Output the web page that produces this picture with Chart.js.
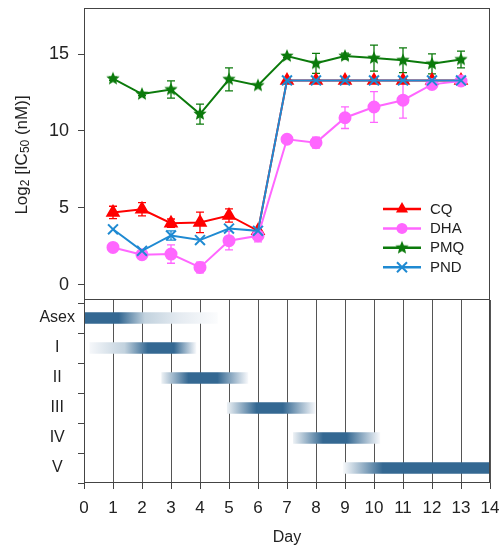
<!DOCTYPE html>
<html><head><meta charset="utf-8">
<script src="https://cdn.jsdelivr.net/npm/chart.js@4.4.0/dist/chart.umd.min.js"></script>
<style>
html,body{margin:0;padding:0;background:#fff;}
#wrap{position:relative;width:502px;height:548px;overflow:hidden;}
#top{position:absolute;left:0;top:0;width:502px;height:300px;}
#bot{position:absolute;left:0;top:300px;width:502px;height:248px;}
</style></head><body>
<div id="wrap">
<canvas id="top" width="502" height="300"></canvas>
<canvas id="bot" width="502" height="248"></canvas>
</div>
<script>
// ---------- data ----------
const days = [1,2,3,4,5,6,7,8,9,10,11,12,13];
const cqVals  = [4.7,4.9,4.0,4.05,4.5,3.5,13.29,13.29,13.29,13.29,13.29,13.29,13.29];
const cqErr   = [0.4,0.43,0.27,0.67,0.43,0,0,0,0,0,0,0,0];
const dhaVals = [2.42,1.95,1.99,1.12,2.86,3.18,9.46,9.24,10.86,11.56,12.0,13.03,13.25];
const dhaErr  = [0,0,0.6,0.35,0.6,0.4,0,0.35,0.7,1.0,1.17,0,0];
const pmqVals = [13.4,12.4,12.7,11.1,13.36,12.96,14.87,14.4,14.87,14.74,14.6,14.37,14.65];
const pmqErr  = [0.1,0.1,0.56,0.65,0.75,0,0.1,0.65,0.2,0.85,0.8,0.65,0.55];
const pndVals = [3.6,2.2,3.2,2.9,3.65,3.5,13.29,13.29,13.29,13.29,13.29,13.29,13.29];
const pndErr  = [0,0,0.3,0,0,0,0,0,0,0,0,0,0];
const yTicks  = [0,5,10,15];
const dayTicks = [0,1,2,3,4,5,6,7,8,9,10,11,12,13,14];

const stages     = ['Asex','I','II','III','IV','V'];
const stageStart = [0, 0.2, 2.68, 4.94, 7.22, 8.94];
const stageEnd   = [4.6, 3.86, 5.65, 7.97, 10.2, 14];
// shading profile along each stage: [day, intensity 0..1]
const stageShade = [
  [[0,1],[1.2,1],[2.1,0.3],[3.3,0.13],[4.6,0.02]],
  [[0.2,0.05],[1.4,0.3],[2.2,1],[3.1,1],[3.86,0.05]],
  [[2.68,0.1],[3.6,1],[4.6,1],[5.65,0.05]],
  [[4.94,0.1],[5.95,1],[6.86,1],[7.97,0.05]],
  [[7.22,0.1],[8.24,1],[9.06,1],[10.2,0.05]],
  [[8.94,0.04],[10.3,1],[14,1]]
];

// ---------- styles ----------
const FONT = "'Liberation Sans', Arial, Helvetica, sans-serif";
Chart.defaults.font.family = FONT;
Chart.defaults.color = '#222';
const AXIS = '#444';
const C_CQ = '#ff0000', C_DHA = '#ff66ff', C_PMQ = '#0b7a0b', C_PND = '#1f8ad2';
const DARK = [52,104,146];

function makeStar(r, color){
  const s = Math.ceil(r*2+2);
  const c = document.createElement('canvas'); c.width = s; c.height = s;
  const g = c.getContext('2d'); g.fillStyle = color; g.beginPath();
  for (let i=0;i<10;i++){
    const rr = i%2 ? r*0.45 : r;
    const a = -Math.PI/2 + i*Math.PI/5;
    g.lineTo(s/2 + rr*Math.cos(a), s/2 + rr*Math.sin(a));
  }
  g.closePath(); g.fill(); return c;
}
const starImg = makeStar(7, C_PMQ);
const starImgL = makeStar(7, C_PMQ);

const pts = vals => days.map((d,i)=>({x:d, y:vals[i]}));
const noPad = s => { s.paddingTop = 0; s.paddingBottom = 0; s.paddingLeft = 0; s.paddingRight = 0; };

const boxPlugin = (sides) => ({
  id:'box',
  afterDraw(chart){
    const {ctx, chartArea:a} = chart;
    ctx.save(); ctx.strokeStyle = AXIS; ctx.lineWidth = 1;
    ctx.beginPath();
    const l=Math.round(a.left)+0.5, r=Math.round(a.right)-0.5, t=Math.round(a.top)+0.5, b=Math.round(a.bottom)-0.5;
    if (sides.includes('t')) { ctx.moveTo(l,t); ctx.lineTo(r,t); }
    if (sides.includes('b')) { ctx.moveTo(l,b); ctx.lineTo(r,b); }
    if (sides.includes('l')) { ctx.moveTo(l,a.top); ctx.lineTo(l,a.bottom); }
    if (sides.includes('r')) { ctx.moveTo(r,a.top); ctx.lineTo(r,a.bottom); }
    ctx.stroke(); ctx.restore();
  }
});

const errorBars = {
  id:'errorBars',
  beforeDatasetsDraw(chart){
    const {ctx, scales:{x,y}} = chart;
    chart.data.datasets.forEach(ds=>{
      if (!ds.errors) return;
      ctx.save(); ctx.strokeStyle = ds.borderColor; ctx.lineWidth = 1.3;
      ds.data.forEach((p,j)=>{
        const e = ds.errors[j]; if (!e) return;
        const px = x.getPixelForValue(p.x);
        const y1 = y.getPixelForValue(p.y+e), y2 = y.getPixelForValue(p.y-e);
        ctx.beginPath();
        ctx.moveTo(px,y1); ctx.lineTo(px,y2);
        ctx.moveTo(px-4,y1); ctx.lineTo(px+4,y1);
        ctx.moveTo(px-4,y2); ctx.lineTo(px+4,y2);
        ctx.stroke();
      });
      ctx.restore();
    });
  }
};

const yTitle = {
  id:'yTitle',
  afterDraw(chart){
    const {ctx, chartArea:a} = chart;
    const parts = [['Log',17,0],['2',12,4],[' [IC',17,0],['50',12,4],[' (nM)]',17,0]];
    ctx.save();
    let total = 0;
    parts.forEach(p=>{ ctx.font = p[1]+'px '+FONT; total += ctx.measureText(p[0]).width; });
    ctx.translate(22, (a.top+a.bottom)/2 + 1);
    ctx.rotate(-Math.PI/2);
    ctx.fillStyle = '#222'; ctx.textBaseline = 'middle'; ctx.textAlign = 'left';
    let xx = -total/2;
    parts.forEach(p=>{ ctx.font = p[1]+'px '+FONT; ctx.fillText(p[0], xx, p[2]); xx += ctx.measureText(p[0]).width; });
    ctx.restore();
  }
};

function drawMarker(ctx, kind, x, y, color){
  ctx.save(); ctx.fillStyle = color; ctx.strokeStyle = color;
  if (kind==='triangle'){
    const r=7; ctx.beginPath();
    for (let k=0;k<3;k++){ const a=-Math.PI/2+k*2*Math.PI/3; ctx.lineTo(x+r*Math.cos(a), y+r*Math.sin(a)); }
    ctx.closePath(); ctx.fill();
  } else if (kind==='circle'){
    ctx.beginPath(); ctx.arc(x,y,5.5,0,Math.PI*2); ctx.fill();
  } else if (kind==='star'){
    ctx.drawImage(starImgL, x-starImgL.width/2, y-starImgL.height/2);
  } else {
    const d=5; ctx.lineWidth=2; ctx.beginPath();
    ctx.moveTo(x-d,y-d); ctx.lineTo(x+d,y+d); ctx.moveTo(x+d,y-d); ctx.lineTo(x-d,y+d); ctx.stroke();
  }
  ctx.restore();
}

const legendPlugin = {
  id:'customLegend',
  afterDraw(chart){
    const {ctx, chartArea:a} = chart;
    const items = [['CQ',C_CQ,'triangle'],['DHA',C_DHA,'circle'],['PMQ',C_PMQ,'star'],['PND',C_PND,'cross']];
    const x0 = a.right-107, x1 = a.right-69, xt = a.right-60;
    items.forEach((it,i)=>{
      const yy = 209 + i*19.4;
      ctx.save(); ctx.strokeStyle = it[1]; ctx.lineWidth = 2.5;
      ctx.beginPath(); ctx.moveTo(x0,yy); ctx.lineTo(x1,yy); ctx.stroke(); ctx.restore();
      drawMarker(ctx, it[2], (x0+x1)/2, yy, it[1]);
      ctx.save(); ctx.fillStyle = '#222'; ctx.font = '15px '+FONT; ctx.textBaseline='middle';
      ctx.fillText(it[0], xt, yy+0.5); ctx.restore();
    });
  }
};

// ---------- top chart ----------
new Chart(document.getElementById('top'), {
  type:'line',
  data:{ datasets:[
    {label:'CQ', data:pts(cqVals), errors:cqErr, borderColor:C_CQ, backgroundColor:C_CQ, pointStyle:'triangle', pointRadius:6.5, borderWidth:2, order:3},
    {label:'DHA', data:pts(dhaVals), errors:dhaErr, borderColor:C_DHA, backgroundColor:C_DHA, pointStyle:'circle', pointRadius:5.5, borderWidth:2, order:2},
    {label:'PMQ', data:pts(pmqVals), errors:pmqErr, borderColor:C_PMQ, backgroundColor:C_PMQ, pointStyle:starImg, borderWidth:2, order:1},
    {label:'PND', data:pts(pndVals), errors:pndErr, borderColor:C_PND, backgroundColor:C_PND, pointStyle:'crossRot', pointRadius:7, pointBorderWidth:2, borderWidth:2, order:0}
  ]},
  options:{
    responsive:false, animation:false, events:[],
    layout:{autoPadding:false, padding:{top:8,right:12,bottom:0,left:0}},
    plugins:{legend:{display:false}, tooltip:{enabled:false}},
    scales:{
      x:{type:'linear', min:0, max:14, display:false},
      y:{type:'linear', min:-1, max:18,
         afterBuildTicks: s => { s.ticks = yTicks.map(v=>({value:v})); },
         afterFit: s => { s.width = 84; noPad(s); },
         border:{display:false},
         grid:{drawOnChartArea:false, drawTicks:true, tickLength:6, tickColor:AXIS},
         ticks:{padding:9, color:'#222', font:{size:18}}
      }
    }
  },
  plugins:[errorBars, boxPlugin('tblr'), yTitle, legendPlugin]
});

// ---------- bottom chart ----------
function shadeColor(t){
  const c = DARK.map(v => Math.round(255 + (v-255)*t));
  return 'rgb('+c.join(',')+')';
}
new Chart(document.getElementById('bot'), {
  type:'bar',
  data:{ datasets:[{
    data: stages.map((s,i)=>({x:[stageStart[i], stageEnd[i]], y:i+0.5})),
    barThickness:11, borderWidth:0, borderSkipped:false,
    backgroundColor: (ctx) => {
      const chart = ctx.chart; const xs = chart.scales.x;
      if (!chart.chartArea || !xs || ctx.dataIndex === undefined) return shadeColor(1);
      const i = ctx.dataIndex;
      const p0 = xs.getPixelForValue(stageStart[i]), p1 = xs.getPixelForValue(stageEnd[i]);
      const g = chart.ctx.createLinearGradient(p0,0,p1,0);
      const span = stageEnd[i]-stageStart[i];
      stageShade[i].forEach(([d,t]) => g.addColorStop(Math.min(1,Math.max(0,(d-stageStart[i])/span)), shadeColor(t)));
      return g;
    }
  }]},
  options:{
    indexAxis:'y',
    responsive:false, animation:false, events:[],
    layout:{autoPadding:false, padding:{top:0,right:12,bottom:0,left:0}},
    plugins:{legend:{display:false}, tooltip:{enabled:false}},
    scales:{
      x:{type:'linear', min:0, max:14, offset:false,
         afterBuildTicks: s => { s.ticks = dayTicks.map(v=>({value:v})); },
         afterFit: s => { s.height = 65; noPad(s); },
         border:{display:false},
         grid:{color:'#555', lineWidth:1, tickLength:6, tickColor:AXIS, offset:false},
         ticks:{padding:9, color:'#222', font:{size:17}, maxRotation:0, autoSkip:false},
         title:{display:true, text:'Day', color:'#222', font:{size:16}, padding:{top:0,bottom:1}}
      },
      y:{type:'linear', min:-0.1, max:6, reverse:true, offset:false,
         afterBuildTicks: s => { s.ticks = Array.from({length:13},(_,k)=>({value:k/2})); },
         afterFit: s => { s.width = 84; noPad(s); },
         border:{display:false},
         grid:{drawOnChartArea:false, tickLength:6, offset:false,
               tickColor: c => (c.tick && Number.isInteger(c.tick.value)) ? AXIS : 'rgba(0,0,0,0)'},
         ticks:{padding:3, crossAlign:'center', color:'#222', font:{size:16}, autoSkip:false,
                callback: v => Number.isInteger(v) ? '' : stages[Math.floor(v)]}
      }
    }
  },
  plugins:[boxPlugin('blr')]
});
</script>
</body></html>
